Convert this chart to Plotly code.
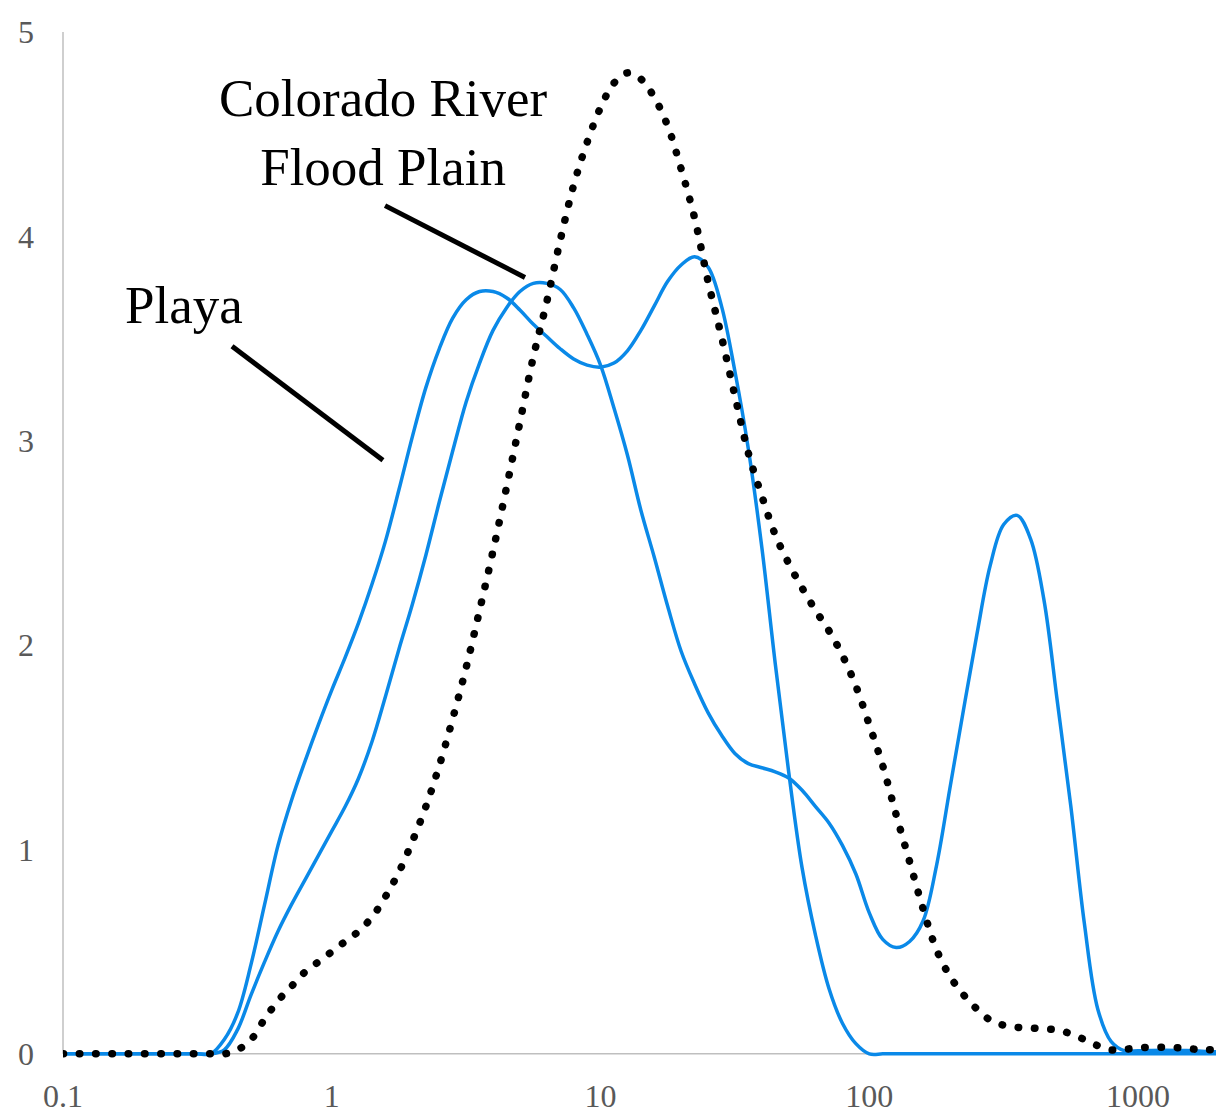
import plotly.graph_objects as go

# particle size (µm), log-spaced bins (20 per decade)
size_um = [0.1, 0.1122, 0.1259, 0.1413, 0.1585, 0.1778, 0.1995, 0.2239, 0.2512, 0.2818,
           0.3162, 0.3548, 0.3981, 0.4467, 0.5012, 0.5623, 0.631, 0.7079, 0.7943, 0.8913,
           1.0, 1.122, 1.259, 1.413, 1.585, 1.778, 1.995, 2.239, 2.512, 2.818,
           3.162, 3.548, 3.981, 4.467, 5.012, 5.623, 6.31, 7.079, 7.943, 8.913,
           10.0, 11.22, 12.59, 14.13, 15.85, 17.78, 19.95, 22.39, 25.12, 28.18,
           31.62, 35.48, 39.81, 44.67, 50.12, 56.23, 63.1, 70.79, 79.43, 89.13,
           100.0, 112.2, 125.9, 141.3, 158.5, 177.8, 199.5, 223.9, 251.2, 281.8,
           316.2, 354.8, 398.1, 446.7, 501.2, 562.3, 631.0, 707.9, 794.3, 891.3,
           1000.0, 1122.0, 1259.0, 1413.0, 1585.0, 1778.0, 1995.0]

playa = [0, 0, 0, 0, 0, 0, 0, 0, 0, 0,
         0, 0, 0.07, 0.20, 0.44, 0.73, 1.02, 1.24, 1.43, 1.61,
         1.78, 1.94, 2.11, 2.30, 2.51, 2.76, 3.02, 3.26, 3.45, 3.60,
         3.69, 3.73, 3.73, 3.70, 3.64, 3.57, 3.51, 3.45, 3.40, 3.37,
         3.36, 3.38, 3.44, 3.54, 3.66, 3.78, 3.86, 3.90, 3.85, 3.66,
         3.34, 2.96, 2.48, 1.91, 1.38, 0.91, 0.58, 0.32, 0.15, 0.05,
         0, 0, 0, 0, 0, 0, 0, 0, 0, 0,
         0, 0, 0, 0, 0, 0, 0, 0, 0, 0,
         0, 0, 0, 0, 0, 0, 0]

colorado_flood_plain = [0, 0, 0, 0, 0, 0, 0, 0, 0, 0,
                        0, 0, 0.02, 0.12, 0.29, 0.45, 0.60, 0.73, 0.85, 0.97,
                        1.09, 1.21, 1.35, 1.53, 1.75, 1.98, 2.20, 2.44, 2.70, 2.95,
                        3.19, 3.38, 3.54, 3.65, 3.73, 3.77, 3.77, 3.74, 3.65, 3.52,
                        3.37, 3.16, 2.93, 2.66, 2.43, 2.19, 1.97, 1.81, 1.67, 1.56,
                        1.47, 1.42, 1.40, 1.38, 1.35, 1.29, 1.21, 1.13, 1.02, 0.88,
                        0.69, 0.56, 0.52, 0.55, 0.65, 0.92, 1.30, 1.68, 2.05, 2.39,
                        2.59, 2.635, 2.52, 2.22, 1.72, 1.21, 0.64, 0.22, 0.06, 0.015,
                        0.015, 0.017, 0.018, 0.017, 0.015, 0.012, 0.01]

dotted_series = [0, 0, 0, 0, 0, 0, 0, 0, 0, 0,
                 0, 0, 0, 0.02, 0.07, 0.17, 0.26, 0.33, 0.40, 0.45,
                 0.50, 0.55, 0.60, 0.67, 0.77, 0.89, 1.04, 1.21, 1.41, 1.64,
                 1.89, 2.17, 2.46, 2.77, 3.09, 3.41, 3.68, 3.98, 4.25, 4.46,
                 4.63, 4.75, 4.80, 4.77, 4.68, 4.54, 4.33, 4.09, 3.78, 3.51,
                 3.22, 2.94, 2.73, 2.54, 2.40, 2.28, 2.17, 2.07, 1.95, 1.80,
                 1.61, 1.41, 1.17, 0.94, 0.71, 0.51, 0.38, 0.29, 0.22, 0.165,
                 0.14, 0.13, 0.127, 0.122, 0.117, 0.098, 0.07, 0.04, 0.02, 0.022,
                 0.03, 0.032, 0.032, 0.03, 0.024, 0.02, 0.02]

x_tick_vals = [0.1, 1, 10, 100, 1000]
x_tick_text = ["0.1", "1", "10", "100", "1000"]
y_tick_vals = [0, 1, 2, 3, 4, 5]

BLUE = "#0A89E8"
AXIS_GRAY = "#BFBFBF"
TICK_GRAY = "#595959"
FONT = "Liberation Serif, Times New Roman, serif"

fig = go.Figure()
fig.add_trace(go.Scatter(x=size_um, y=playa, mode="lines", name="Playa",
                         line=dict(color=BLUE, width=3.5, shape="spline", smoothing=1.0)))
fig.add_trace(go.Scatter(x=size_um, y=colorado_flood_plain, mode="lines",
                         name="Colorado River Flood Plain",
                         line=dict(color=BLUE, width=3.5, shape="spline", smoothing=1.0)))
fig.add_trace(go.Scatter(x=size_um, y=dotted_series, mode="lines", name="Other",
                         line=dict(color="black", width=7.5, shape="spline", smoothing=1.0,
                                   dash="0.5px,15.8px")))

# axis lines drawn as shapes (so lines sitting on zero are not clipped)
fig.add_shape(type="line", xref="paper", yref="y", x0=0, x1=0, y0=0, y1=5,
              line=dict(color=AXIS_GRAY, width=1.5), layer="below")
fig.add_shape(type="line", xref="paper", yref="y", x0=0, x1=1, y0=0, y1=0,
              line=dict(color=AXIS_GRAY, width=1.5), layer="below")

# label pointers
fig.add_shape(type="line", xref="paper", yref="paper",
              x0=0.2793, y0=0.8311, x1=0.4007, y1=0.7612,
              line=dict(color="black", width=5))
fig.add_shape(type="line", xref="paper", yref="paper",
              x0=0.1466, y0=0.6942, x1=0.2775, y1=0.5835,
              line=dict(color="black", width=5))

fig.add_annotation(xref="paper", yref="paper", x=0.2784, y=0.902,
                   text="Colorado River<br>Flood Plain", showarrow=False,
                   xanchor="center", yanchor="middle",
                   font=dict(family=FONT, size=53, color="black"))
fig.add_annotation(xref="paper", yref="paper", x=0.105, y=0.734,
                   text="Playa", showarrow=False,
                   xanchor="center", yanchor="middle",
                   font=dict(family=FONT, size=53, color="black"))

fig.update_layout(
    width=1216, height=1114,
    margin=dict(l=63, r=0, t=32, b=52),
    paper_bgcolor="white", plot_bgcolor="white",
    showlegend=False,
    font=dict(family=FONT),
)
fig.update_xaxes(type="log", range=[-1, 3.29], showgrid=False, zeroline=False,
                 showline=False, ticks="", tickvals=x_tick_vals, ticktext=x_tick_text,
                 tickfont=dict(family=FONT, size=32, color=TICK_GRAY),
                 ticklabelstandoff=14)
fig.update_yaxes(range=[-0.03, 5], showgrid=False, zeroline=False, showline=False,
                 ticks="", tickvals=y_tick_vals,
                 tickfont=dict(family=FONT, size=32, color=TICK_GRAY),
                 ticklabelstandoff=28)

fig.write_html("out.html", config={"displayModeBar": False}, post_script=(
    "document.body.style.margin='0';"
    "document.querySelectorAll('.scatterlayer path.js-line').forEach(function(p){"
    "p.style.strokeLinecap='round';p.style.strokeLinejoin='round';});"))
